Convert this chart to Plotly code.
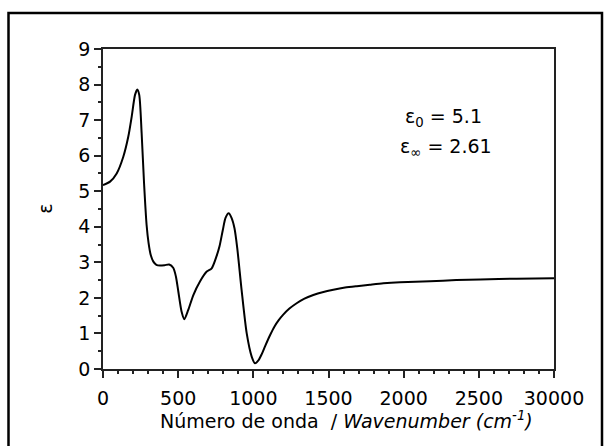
import plotly.graph_objects as go

# Data
wavenumber = [0, 47, 91, 135, 168, 191, 213, 228, 241, 257, 273, 290, 303, 318, 335,
              355, 379, 410, 440, 468, 485, 501, 523, 541, 567, 601, 645, 690, 723,
              756, 775, 797, 815, 836, 855, 875, 893, 922, 956, 989, 1011, 1035,
              1056, 1080, 1111, 1140, 1170, 1199, 1240, 1288, 1340, 1399, 1460, 1532,
              1610, 1688, 1775, 1865, 1976, 2175, 2350, 2508, 2750, 3000]
epsilon = [5.17, 5.27, 5.50, 5.97, 6.53, 7.10, 7.71, 7.86, 7.71, 6.63, 5.23, 4.05,
           3.55, 3.20, 3.02, 2.93, 2.91, 2.92, 2.94, 2.84, 2.60, 2.18, 1.61, 1.40,
           1.66, 2.08, 2.46, 2.74, 2.83, 3.18, 3.45, 3.91, 4.25, 4.38, 4.25, 3.95,
           3.40, 2.22, 1.00, 0.35, 0.16, 0.25, 0.42, 0.66, 0.95, 1.19, 1.38, 1.53,
           1.70, 1.85, 1.98, 2.08, 2.16, 2.23, 2.29, 2.33, 2.37, 2.41, 2.44, 2.47,
           2.50, 2.52, 2.54, 2.55]

x_tickvals = [0, 500, 1000, 1500, 2000, 2500, 3000]
x_ticktext = ["0", "500", "1000", "1500", "2000", "2500", "30000"]
y_tickvals = [0, 1, 2, 3, 4, 5, 6, 7, 8, 9]

eps0_label = "ε<sub>0</sub> = 5.1"
epsinf_label = "ε<sub>∞</sub> = 2.61"

FONT = "DejaVu Sans"
FS = 19
AX = "#222222"

fig = go.Figure()
fig.add_trace(go.Scatter(
    x=wavenumber, y=epsilon, mode="lines",
    line=dict(color="black", width=2, shape="spline", smoothing=0.7),
    showlegend=False, hoverinfo="skip"))

fig.update_layout(
    width=608, height=446,
    margin=dict(l=103, r=54, t=49, b=77),
    paper_bgcolor="white", plot_bgcolor="white",
    font=dict(family=FONT, size=FS, color="black"),
    showlegend=False,
)

fig.update_xaxes(
    range=[0, 3000], tickmode="array", tickvals=x_tickvals, ticktext=x_ticktext,
    ticks="outside", ticklen=7, tickwidth=1.5, tickcolor=AX, ticklabelstandoff=4,
    minor=dict(dtick=100, ticks="outside", ticklen=3, tickwidth=1.5, tickcolor=AX),
    showline=True, linecolor=AX, linewidth=1.5, mirror=True,
    showgrid=False, zeroline=False, tickfont=dict(size=FS, family=FONT),
)
fig.update_yaxes(
    range=[0, 9], tickmode="array", tickvals=y_tickvals,
    ticks="outside", ticklen=7, tickwidth=1.5, tickcolor=AX,
    minor=dict(dtick=0.5, ticks="outside", ticklen=3, tickwidth=1.5, tickcolor=AX),
    showline=True, linecolor=AX, linewidth=1.5, mirror=True,
    showgrid=False, zeroline=False, tickfont=dict(size=FS, family=FONT),
)

# axis titles
fig.add_annotation(
    xref="paper", yref="paper", x=0.541, y=-0.158, xanchor="center", yanchor="middle",
    text="Número de onda  / <i>Wavenumber (cm<sup>-1</sup>)</i>",
    showarrow=False, font=dict(size=FS, family=FONT))
fig.add_annotation(
    xref="paper", yref="paper", x=-0.129, y=0.5, xanchor="center", yanchor="middle",
    text="ε", textangle=-90, showarrow=False, font=dict(size=FS, family=FONT))

# parameter labels
fig.add_annotation(xref="paper", yref="paper", x=0.755, y=(369 - 118) / 320,
                   xanchor="center", yanchor="middle", text=eps0_label,
                   showarrow=False, font=dict(size=FS, family=FONT))
fig.add_annotation(xref="paper", yref="paper", x=0.760, y=(369 - 147) / 320,
                   xanchor="center", yanchor="middle", text=epsinf_label,
                   showarrow=False, font=dict(size=FS, family=FONT))

# outer frame
fig.add_shape(type="rect", xref="paper", yref="paper",
              x0=(8.5 - 103) / 451, x1=(602 - 103) / 451,
              y0=(369 - 452) / 320, y1=(369 - 13) / 320,
              line=dict(color="black", width=2.5), fillcolor="rgba(0,0,0,0)", layer="above")

fig.write_html("out.html")
